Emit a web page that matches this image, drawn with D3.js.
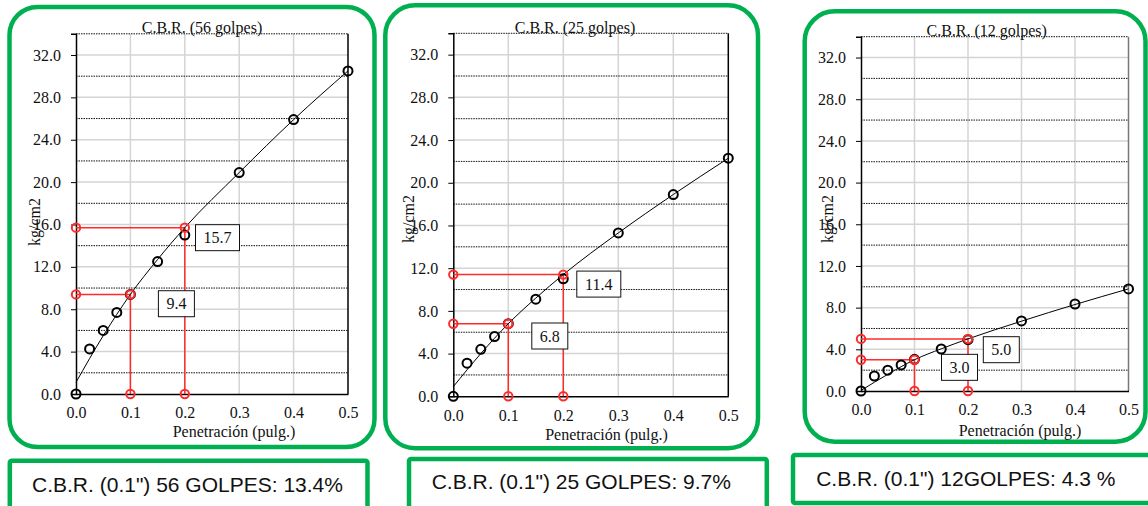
<!DOCTYPE html>
<html>
<head>
<meta charset="utf-8">
<script src="https://cdn.jsdelivr.net/npm/d3@7"></script>
<style>
  html, body { margin: 0; padding: 0; background: #fff; }
  svg { display: block; }
</style>
</head>
<body>
<svg id="chart" width="1148" height="506"></svg>
<script>
// Penetration readings (inches) and measured load (kg/cm2) for each compaction energy
const penetration = [0, 0.025, 0.05, 0.075, 0.1, 0.15, 0.2, 0.3, 0.4, 0.5];
const load56 = [0, 4.25, 6.0, 7.7, 9.4, 12.5, 15.0, 20.9, 25.9, 30.5];
const load25 = [0, 3.1, 4.4, 5.6, 6.8, 9.1, 11.0, 15.3, 18.9, 22.3];
const load12 = [0, 1.44, 2.0, 2.5, 3.04, 4.03, 4.92, 6.72, 8.35, 9.8];

// Corrected (fitted) load curves
const fitPenetration = [0, 0.05, 0.1, 0.15, 0.2, 0.3, 0.4, 0.5];
const fit56 = [1.1, 5.5, 9.4, 12.7, 15.7, 20.9, 25.9, 30.5];
const fit25 = [0.9, 4.0, 6.8, 9.2, 11.4, 15.3, 18.9, 22.3];
const fit12 = [0.05, 1.6, 3.0, 4.05, 5.0, 6.7, 8.3, 9.8];

// Corrected loads read at 0.1" and 0.2"
const readPenetration = [0.1, 0.2];
const read56 = [9.4, 15.7];
const read25 = [6.8, 11.4];
const read12 = [3.0, 5.0];

// Axis ticks
const xTicks = [0, 0.1, 0.2, 0.3, 0.4, 0.5];
const yTicks = [0, 4, 8, 12, 16, 20, 24, 28, 32];
const yMinorLines = [2, 6, 10, 14, 18, 22, 26, 30, 34];

const titles = ["C.B.R. (56 golpes)", "C.B.R. (25 golpes)", "C.B.R. (12 golpes)"];
const summaries = ["C.B.R. (0.1\") 56 GOLPES: 13.4%", "C.B.R. (0.1\") 25 GOLPES: 9.7%", "C.B.R. (0.1\") 12GOLPES: 4.3 %"];
const xTitle = "Penetración (pulg.)";
const yTitle = "kg/cm2";

const loads = [load56, load25, load12];
const fits = [fit56, fit25, fit12];
const reads = [read56, read25, read12];

// Placement of each panel on the page
const layout = [
  { frame: [9.5, 7, 374.5, 447], rx: 28, plot: [76, 33.8, 348, 394], titleX: 202,
    xTitleX: 234, xTitleY: 437, yTitleX: 34, yTitleY: 222, rightColor: "#000",
    labelOff: [[46, 9.3], [32.7, 10]], box: [9.8, 460.8, 367.5, 530], sumX: 187.5, sumY: 491.7 },
  { frame: [385.3, 5.3, 758, 448.3], rx: 30, plot: [453.3, 33.3, 728.3, 396.3], titleX: 575,
    xTitleX: 606.5, xTitleY: 440, yTitleX: 408.5, yTitleY: 219, rightColor: "#000",
    labelOff: [[41.5, 12.3], [35.5, 9.5]], box: [409, 459, 766.8, 530], sumX: 581.3, sumY: 489.3 },
  { frame: [804.7, 11.3, 1145.5, 441.7], rx: 30, plot: [861, 36.7, 1128.5, 391], titleX: 986.7,
    xTitleX: 1020, xTitleY: 436, yTitleX: 827.5, yTitleY: 219, rightColor: "#777",
    labelOff: [[45, 7.6], [33.3, 10.8]], box: [793, 455, 1170, 503], sumX: 965.8, sumY: 485.7 }
];

const GREEN = "#00b050";
const RED = "#ff2b2b";
const SERIF = "'Liberation Serif', 'Times New Roman', serif";
const SANS = "'Liberation Sans', Arial, sans-serif";

const svg = d3.select("#chart");

layout.forEach((L, i) => {
  const g = svg.append("g");
  const [px0, py0, px1, py1] = L.plot;
  const x = d3.scaleLinear().domain([0, 0.5]).range([px0, px1]);
  const y = d3.scaleLinear().domain([0, 34]).range([py1, py0]);

  // Rounded green frame
  g.append("rect")
    .attr("x", L.frame[0]).attr("y", L.frame[1])
    .attr("width", L.frame[2] - L.frame[0]).attr("height", L.frame[3] - L.frame[1])
    .attr("rx", L.rx).attr("ry", L.rx)
    .attr("fill", "#fff").attr("stroke", GREEN).attr("stroke-width", 4.5);

  // Plot background
  g.append("rect")
    .attr("x", px0).attr("y", py0).attr("width", px1 - px0).attr("height", py1 - py0)
    .attr("fill", "#fff");

  // Light major gridlines
  g.append("g").selectAll("line").data(yTicks.filter(d => d > 0)).join("line")
    .attr("x1", px0).attr("x2", px1).attr("y1", d => y(d)).attr("y2", d => y(d))
    .attr("stroke", "#d4d4d4").attr("stroke-width", 1.5);
  g.append("g").selectAll("line").data(xTicks.filter(d => d > 0 && d < 0.5)).join("line")
    .attr("x1", d => x(d)).attr("x2", d => x(d)).attr("y1", py0).attr("y2", py1)
    .attr("stroke", "#d4d4d4").attr("stroke-width", 1.5);

  // Dotted minor gridlines (the last one closes the top of the plot)
  g.append("g").selectAll("line").data(yMinorLines).join("line")
    .attr("x1", px0).attr("x2", px1).attr("y1", d => y(d)).attr("y2", d => y(d))
    .attr("stroke", "#111").attr("stroke-width", 1).attr("stroke-dasharray", "1.5,1");

  // Right border
  g.append("line")
    .attr("x1", px1).attr("x2", px1).attr("y1", py0).attr("y2", py1)
    .attr("stroke", L.rightColor).attr("stroke-width", 1.5);

  // Y axis
  const yAxis = g.append("g").attr("transform", `translate(${px0},0)`)
    .call(d3.axisLeft(y).tickValues(yTicks).tickFormat(d3.format(".1f")).tickSize(5).tickPadding(10));
  yAxis.select(".domain").attr("stroke", "#000").attr("stroke-width", 1.5);
  yAxis.selectAll(".tick line").attr("stroke", "#000").attr("stroke-width", 1);
  yAxis.selectAll("text").attr("font-family", SERIF).attr("font-size", 16).attr("fill", "#111");

  // X axis
  const xAxis = g.append("g").attr("transform", `translate(0,${py1})`)
    .call(d3.axisBottom(x).tickValues(xTicks).tickFormat(d3.format(".1f")).tickSize(0).tickPadding(13));
  xAxis.select(".domain").attr("stroke", "#000").attr("stroke-width", 1.5);
  xAxis.selectAll("text").attr("font-family", SERIF).attr("font-size", 16).attr("fill", "#111");

  // Titles
  g.append("text").attr("x", L.titleX).attr("y", py0 - 0.5)
    .attr("text-anchor", "middle").attr("font-family", SERIF).attr("font-size", 16).attr("fill", "#111")
    .text(titles[i]);
  g.append("text").attr("x", L.xTitleX).attr("y", L.xTitleY)
    .attr("text-anchor", "middle").attr("font-family", SERIF).attr("font-size", 16).attr("fill", "#111")
    .text(xTitle);
  g.append("text")
    .attr("transform", `translate(${L.yTitleX},${L.yTitleY}) rotate(-90)`)
    .attr("text-anchor", "middle").attr("dy", "0.35em")
    .attr("font-family", SERIF).attr("font-size", 16).attr("fill", "#111")
    .text(yTitle);

  // Red read-off guides at 0.1" and 0.2"
  const rd = readPenetration.map((p, k) => ({ p, v: reads[i][k] }));
  const red = g.append("g");
  rd.forEach(r => {
    red.append("path")
      .attr("d", `M${x(0)},${y(r.v)}H${x(r.p)}V${y(0)}`)
      .attr("fill", "none").attr("stroke", RED).attr("stroke-width", 1.5);
  });

  // Fitted curve
  const fitPts = fitPenetration.map((p, k) => [p, fits[i][k]]);
  g.append("path").datum(fitPts)
    .attr("d", d3.line().x(d => x(d[0])).y(d => y(d[1])).curve(d3.curveMonotoneX))
    .attr("fill", "none").attr("stroke", "#000").attr("stroke-width", 1);

  // Measured points
  const pts = penetration.map((p, k) => [p, loads[i][k]]);
  g.append("g").selectAll("circle").data(pts).join("circle")
    .attr("cx", d => x(d[0])).attr("cy", d => y(d[1])).attr("r", 4.5)
    .attr("fill", "none").attr("stroke", "#000").attr("stroke-width", 2);

  // Red guide markers
  const redMarks = [];
  rd.forEach(r => { redMarks.push([0, r.v], [r.p, r.v], [r.p, 0]); });
  g.append("g").selectAll("circle").data(redMarks).join("circle")
    .attr("cx", d => x(d[0])).attr("cy", d => y(d[1])).attr("r", 4.2)
    .attr("fill", "none").attr("stroke", RED).attr("stroke-width", 2);

  // Value labels for the corrected loads
  rd.forEach((r, k) => {
    const txt = d3.format(".1f")(r.v);
    const cx = x(r.p) + L.labelOff[k][0];
    const cy = y(r.v) + L.labelOff[k][1];
    const w = txt.length > 3 ? 44 : 36, h = 26;
    g.append("rect").attr("x", cx - w / 2).attr("y", cy - h / 2).attr("width", w).attr("height", h)
      .attr("fill", "#fff").attr("stroke", "#111").attr("stroke-width", 1);
    g.append("text").attr("x", cx).attr("y", cy).attr("dy", "0.35em")
      .attr("text-anchor", "middle").attr("font-family", SERIF).attr("font-size", 16).attr("fill", "#111")
      .text(txt);
  });

  // Summary box below the chart
  svg.append("rect")
    .attr("x", L.box[0]).attr("y", L.box[1])
    .attr("width", L.box[2] - L.box[0]).attr("height", L.box[3] - L.box[1])
    .attr("rx", 2).attr("fill", "#fff").attr("stroke", GREEN).attr("stroke-width", 4.5);
  svg.append("text").attr("x", L.sumX).attr("y", L.sumY)
    .attr("text-anchor", "middle").attr("font-family", SANS).attr("font-size", 21).attr("fill", "#111")
    .text(summaries[i]);
});
</script>
</body>
</html>
